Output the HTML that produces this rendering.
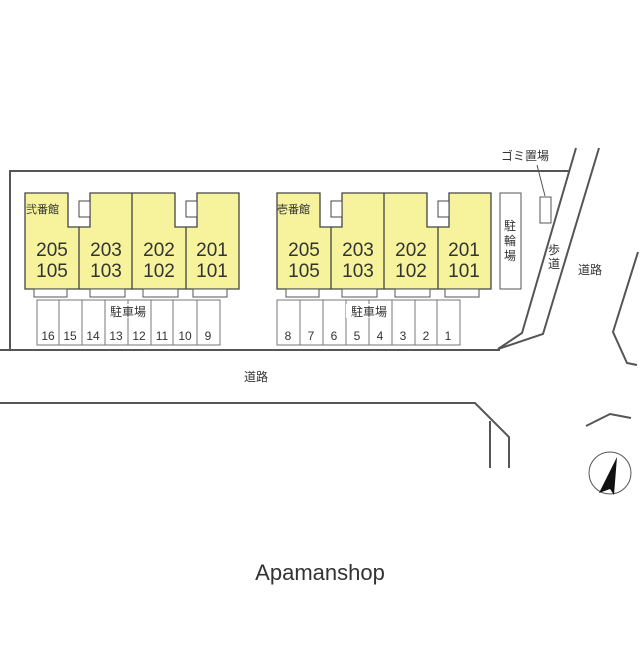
<!DOCTYPE html>
<html><head><meta charset="utf-8"><style>
body{margin:0;background:#fff}
svg text{font-family:"Liberation Sans","Noto Sans CJK JP",sans-serif;fill:#333}
</style></head><body>
<svg width="640" height="640" viewBox="0 0 640 640" xmlns="http://www.w3.org/2000/svg">
<g stroke="#555" stroke-width="2" fill="none">
<polyline points="10,350 10,171 570,171"/>
<line x1="0" y1="350" x2="500" y2="350"/>
<polyline points="576,148 522,333 498,349"/>
<polyline points="599,148 543,334 498,349"/>
<polyline points="638,252 613,332 627,363 637,365"/>
<polyline points="0,403 475,403 509,437 509,468"/>
<line x1="490" y1="421" x2="490" y2="468"/>
<polyline points="586,426 610,414 631,418"/>
</g>
<g stroke="#555" stroke-width="1" fill="none">
<line x1="537" y1="165" x2="545" y2="196"/>
<rect x="540" y="197" width="11" height="26" />
<rect x="500" y="193" width="21" height="96"/>
<circle cx="610" cy="473" r="21"/>
</g>
<polygon points="617,457 599,493 610,489 614,495" fill="#111"/>
<defs>
<g id="bld">
<path d="M25,193 H68 V227 H90 V193 H175 V227 H197 V193 H239 V289 H25 Z" fill="#f6f39c" stroke="#444" stroke-width="1.3"/>
<path d="M79,227 V289 M132,193 V289 M186,227 V289" stroke="#444" stroke-width="1.3"/>
<rect x="79" y="201" width="11" height="16" fill="#fff" stroke="#444"/>
<rect x="186" y="201" width="11" height="16" fill="#fff" stroke="#444"/>
<g fill="#fff" stroke="#555"><rect x="34" y="289" width="33" height="8"/><rect x="90" y="289" width="35" height="8"/><rect x="143" y="289" width="35" height="8"/><rect x="193" y="289" width="34" height="8"/></g>
<g font-size="19" text-anchor="middle">
<text x="52" y="256">205</text><text x="52" y="277">105</text>
<text x="106" y="256">203</text><text x="106" y="277">103</text>
<text x="159" y="256">202</text><text x="159" y="277">102</text>
<text x="212" y="256">201</text><text x="212" y="277">101</text>
</g>
</g>
</defs>
<use href="#bld"/>
<use href="#bld" x="252"/>
<text x="26" y="213" font-size="11">弐番館</text>
<text x="277" y="213" font-size="11">壱番館</text>
<g stroke="#777" stroke-width="1" fill="none">
<rect x="37" y="300" width="183" height="45"/>
<path d="M59,300V345M82,300V345M105,300V345M128,300V345M151,300V345M173,300V345M197,300V345"/>
<rect x="277" y="300" width="183" height="45"/>
<path d="M300,300V345M323,300V345M346,300V345M369,300V345M392,300V345M415,300V345M437,300V345"/>
</g>
<rect x="106" y="304" width="44" height="14" fill="#fff"/>
<rect x="346" y="304" width="44" height="14" fill="#fff"/>
<g font-size="12" text-anchor="middle">
<text x="128" y="316">駐車場</text><text x="369" y="316">駐車場</text>
<text x="48" y="340">16</text><text x="70" y="340">15</text><text x="93" y="340">14</text><text x="116" y="340">13</text><text x="139" y="340">12</text><text x="162" y="340">11</text><text x="185" y="340">10</text><text x="208" y="340">9</text>
<text x="288" y="340">8</text><text x="311" y="340">7</text><text x="334" y="340">6</text><text x="357" y="340">5</text><text x="380" y="340">4</text><text x="403" y="340">3</text><text x="426" y="340">2</text><text x="448" y="340">1</text>
<text x="510" y="230">駐</text><text x="510" y="245">輪</text><text x="510" y="260">場</text>
<text x="554" y="254">歩</text><text x="554" y="268">道</text>
<text x="525" y="160">ゴミ置場</text>
<text x="590" y="274">道路</text>
<text x="256" y="381">道路</text>
</g>
<text x="320" y="580" font-size="22" text-anchor="middle" fill="#333">Apamanshop</text>
</svg>
</body></html>
